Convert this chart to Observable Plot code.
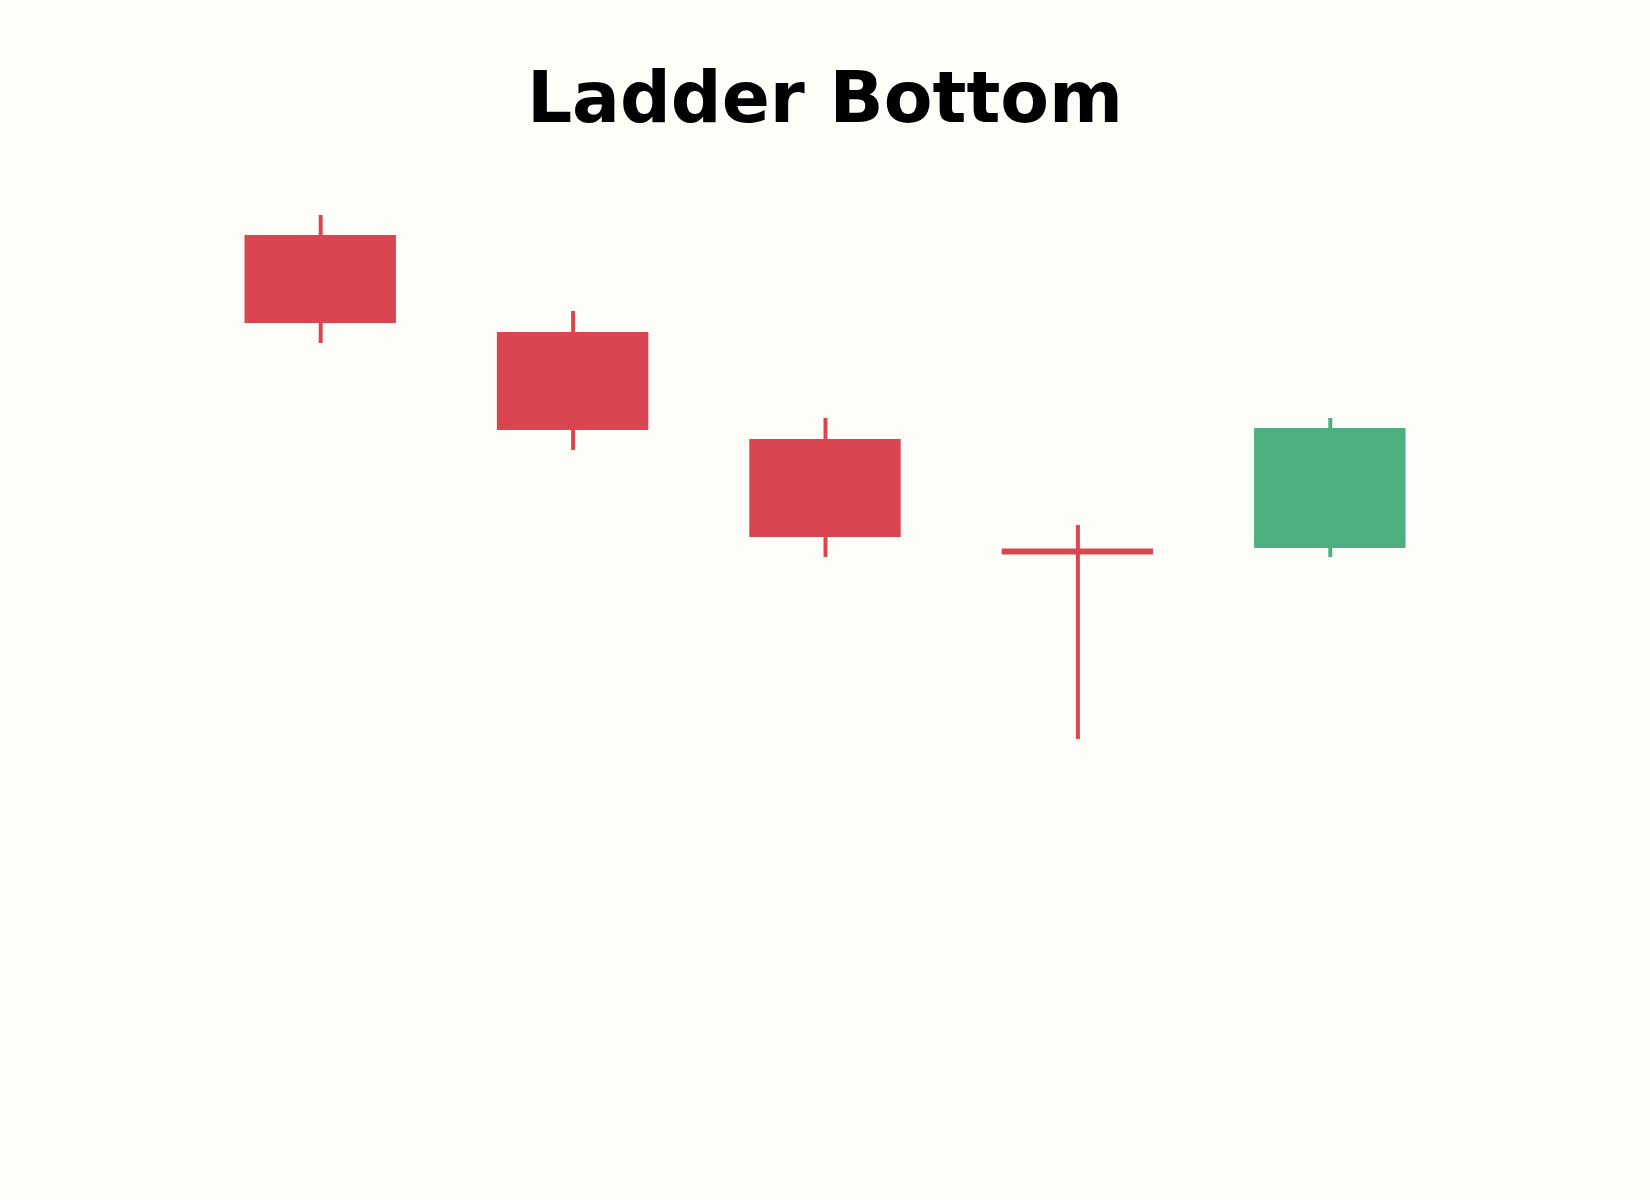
<!DOCTYPE html>
<html>
<head>
<meta charset="utf-8">
<script src="https://cdn.jsdelivr.net/npm/d3@7"></script>
<script src="https://cdn.jsdelivr.net/npm/@observablehq/plot@0.6"></script>
<style>
  html, body { margin: 0; padding: 0; background: #fefef9; }
  #wrap { position: relative; width: 1650px; height: 1200px; }
  #title {
    position: absolute; left: 0; top: 62px; width: 1650px;
    text-align: center; font-family: "DejaVu Sans", sans-serif;
    font-weight: bold; font-size: 71px; line-height: 71px; color: #000;
  }
  #chart { position: absolute; left: 0; top: 0; }
</style>
</head>
<body>
<div id="wrap">
  <div id="chart"></div>
  <div id="title">Ladder Bottom</div>
</div>
<script>
const days   = ["Day 1", "Day 2", "Day 3", "Day 4", "Day 5"];
const opens  = [76.5, 66.8, 56.1, 44.9, 45.2];
const highs  = [78.5, 68.9, 58.2, 47.5, 58.2];
const lows   = [65.7, 55.0, 44.3, 26.1, 44.3];
const closes = [67.7, 57.0, 46.3, 44.9, 57.2];

const RED = "#d94652";
const GREEN = "#4eb07e";

const data = days.map((d, i) => ({
  day: d, open: opens[i], high: highs[i], low: lows[i], close: closes[i],
  color: closes[i] > opens[i] ? GREEN : RED
}));
const bodies = data.filter(d => d.open !== d.close);
const dojis = data.filter(d => d.open === d.close);

const chart = Plot.plot({
  width: 1650,
  height: 1200,
  marginLeft: 194,
  marginRight: 194,
  style: { background: "#fefef9", overflow: "visible" },
  x: { domain: days, paddingInner: 0.4, paddingOuter: 0.2, round: false, axis: null },
  y: { domain: [20, 90], range: [800, 100], axis: null },
  marks: [
    Plot.ruleX(data, { x: "day", y1: "low", y2: "high", stroke: "color", strokeWidth: 4 }),
    Plot.barY(bodies, { x: "day", y1: "open", y2: "close", fill: "color" }),
    Plot.tickY(dojis, { x: "day", y: "close", stroke: "color", strokeWidth: 6 })
  ]
});
document.getElementById("chart").appendChild(chart);
</script>
</body>
</html>
